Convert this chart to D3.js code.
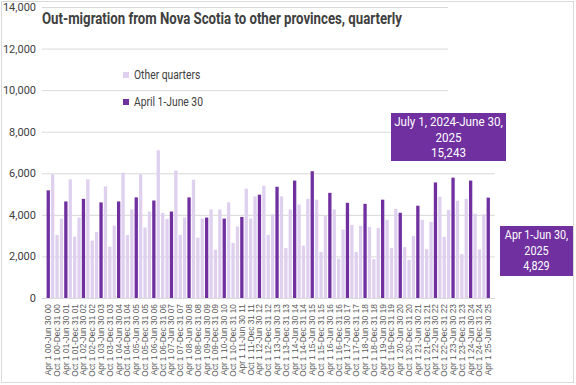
<!DOCTYPE html>
<html>
<head>
<meta charset="utf-8">
<script src="https://cdn.jsdelivr.net/npm/d3@7"></script>
<style>
  body { margin: 0; background: #fff; }
  svg { display: block; }
  text { font-family: "Roboto", "Liberation Sans", sans-serif; }
</style>
</head>
<body>
<svg id="chart" width="576" height="385"></svg>
<script>
// quarters, Apr 2000 .. Apr 2025
let quarterStarts = ["Apr 1", "Jul 1", "Oct 1", "Jan 1"];
let quarterEnds = ["Jun 30", "Sep 30", "Dec 31", "Mar 31"];
let years = ["00","01","02","03","04","05","06","07","08","09","10","11","12",
  "13","14","15","16","17","18","19","20","21","22","23","24","25"];

// out-migrants, one per quarter
let outMigrants = [
  5180, 5950, 3030, 3810,   4645, 5710, 2950, 3870,   4770, 5710, 2760, 3180,
  4600, 5370, 2470, 3480,   4645, 6030, 3030, 4260,   4840, 5950, 3390, 4160,
  4690, 7110, 4100, 3810,   4160, 6130, 3030, 3870,   4840, 5690, 2900, 3820,
  3870, 4260, 2320, 4260,   3820, 4600, 2650, 3440,   3900, 5260, 3820, 4890,
  4970, 5400, 3030, 4020,   5350, 4890, 2400, 4260,   5650, 4500, 2520, 4770,
  6100, 4730, 2210, 3950,   5060, 4260, 1890, 3290,   4580, 3520, 2210, 3470,
  4530, 3420, 1870, 3370,   4730, 3760, 2400, 4290,   4100, 2450, 1840, 2980,
  4440, 3760, 2350, 3660,   5560, 4870, 2940, 4240,   5790, 4680, 2110, 4770,
  5650, 4050, 2340, 4024,   4829
];

let yTicks = [0, 2000, 4000, 6000, 8000, 10000, 12000, 14000];
let legendLabels = ["Other quarters", "April 1-June 30"];
let notes = [
  ["July 1, 2024-June 30,", "2025", "15,243"],
  ["Apr 1-Jun 30,", "2025", "4,829"]
];

let dark = "#7030a0";
let light = "#dfd0ef";

let rows = outMigrants.map(function(v, i) {
  let q = i % 4;
  let yr = Math.floor(i / 4) + (q == 3 ? 1 : 0);
  return {
    i: i,
    value: v,
    q: q,
    label: quarterStarts[q] + " " + years[yr] + "-" + quarterEnds[q] + " " + years[yr]
  };
});

// squeeze text to look like a narrow face
function narrow(sel, k) {
  sel.each(function() {
    let w = this.getComputedTextLength();
    d3.select(this).attr("textLength", w * k).attr("lengthAdjust", "spacingAndGlyphs");
  });
}

let svg = d3.select("#chart");

// outer border
svg.append("rect")
  .attr("x", 1.5).attr("y", 1.5)
  .attr("width", 572).attr("height", 381)
  .attr("fill", "none")
  .attr("stroke", "#d9d9d9");

let x = d3.scaleBand()
  .domain(rows.map(function(d) { return d.i; }))
  .range([45.5, 491])
  .padding(0.25);

let y = d3.scaleLinear().domain([0, 14000]).range([298, 7]);

// gridlines (upper ones stop short)
svg.append("g")
  .selectAll("line")
  .data(yTicks.slice(1))
  .enter()
  .append("line")
  .attr("x1", 42)
  .attr("x2", function(d) { return d >= 10000 ? 448 : 495; })
  .attr("y1", function(d) { return y(d) + 0.5; })
  .attr("y2", function(d) { return y(d) + 0.5; })
  .attr("stroke", "#d9d9d9");

let yAxis = d3.axisLeft(y)
  .tickValues(yTicks)
  .tickSize(0)
  .tickPadding(6)
  .tickFormat(d3.format(","));

svg.append("g")
  .attr("transform", "translate(42,0)")
  .call(yAxis)
  .call(function(g) { g.select(".domain").remove(); })
  .selectAll("text")
  .style("font-family", "Roboto, sans-serif")
  .style("font-size", "11px")
  .attr("fill", "#404040");

// bars
svg.append("g")
  .selectAll("rect")
  .data(rows)
  .enter()
  .append("rect")
  .attr("x", function(d) { return x(d.i); })
  .attr("width", x.bandwidth())
  .attr("y", function(d) { return y(d.value); })
  .attr("height", function(d) { return y(0) - y(d.value); })
  .attr("fill", function(d) { return d.q == 0 ? dark : light; });

// baseline
svg.append("line")
  .attr("x1", 42).attr("x2", 495)
  .attr("y1", y(0) + 0.5).attr("y2", y(0) + 0.5)
  .attr("stroke", "#d9d9d9");

// x labels, every other quarter
let xAxis = d3.axisBottom(x)
  .tickValues(rows.filter(function(d) { return d.q % 2 == 0; }).map(function(d) { return d.i; }))
  .tickSize(0)
  .tickFormat(function(i) { return rows[i].label; });

svg.append("g")
  .attr("transform", "translate(0," + y(0) + ")")
  .call(xAxis)
  .call(function(g) { g.select(".domain").remove(); })
  .selectAll("text")
  .attr("transform", "rotate(-90)")
  .attr("x", -6)
  .attr("y", 0)
  .attr("dy", "0.35em")
  .style("text-anchor", "end")
  .style("font-family", "'Liberation Sans', sans-serif")
  .style("font-size", "8.4px")
  .attr("fill", "#595959");

// title
svg.append("text")
  .attr("x", 42)
  .attr("y", 24)
  .style("font-size", "16px")
  .style("font-weight", "bold")
  .attr("fill", "#404040")
  .attr("textLength", 360)
  .attr("lengthAdjust", "spacingAndGlyphs")
  .text("Out-migration from Nova Scotia to other provinces,  quarterly");

// legend
let legend = svg.append("g")
  .selectAll("g")
  .data(legendLabels)
  .enter()
  .append("g")
  .attr("transform", function(d, i) { return "translate(123," + (72 + i * 27) + ")"; });

legend.append("rect")
  .attr("width", 6).attr("height", 6)
  .attr("fill", function(d, i) { return i == 0 ? light : dark; });

legend.append("text")
  .attr("x", 11)
  .attr("y", 3)
  .attr("dy", "0.35em")
  .style("font-size", "12px")
  .attr("fill", "#404040")
  .text(function(d) { return d; })
  .call(narrow, 0.86);

// annotation boxes
let boxes = [
  { x: 391, y: 113, w: 115, h: 48, k: 0.86 },
  { x: 500, y: 226, w: 73, h: 50, k: 0.8 }
];

notes.forEach(function(lines, n) {
  let b = boxes[n];
  let g = svg.append("g");
  g.append("rect")
    .attr("x", b.x).attr("y", b.y)
    .attr("width", b.w).attr("height", b.h)
    .attr("fill", dark);
  g.selectAll("text")
    .data(lines)
    .enter()
    .append("text")
    .attr("x", b.x + b.w / 2)
    .attr("y", function(d, i) { return b.y + 8.5 + i * 15.5; })
    .attr("dy", "0.35em")
    .attr("text-anchor", "middle")
    .style("font-size", "13.5px")
    .attr("fill", "#fff")
    .text(function(d) { return d; })
    .call(narrow, b.k);
});
</script>
</body>
</html>
